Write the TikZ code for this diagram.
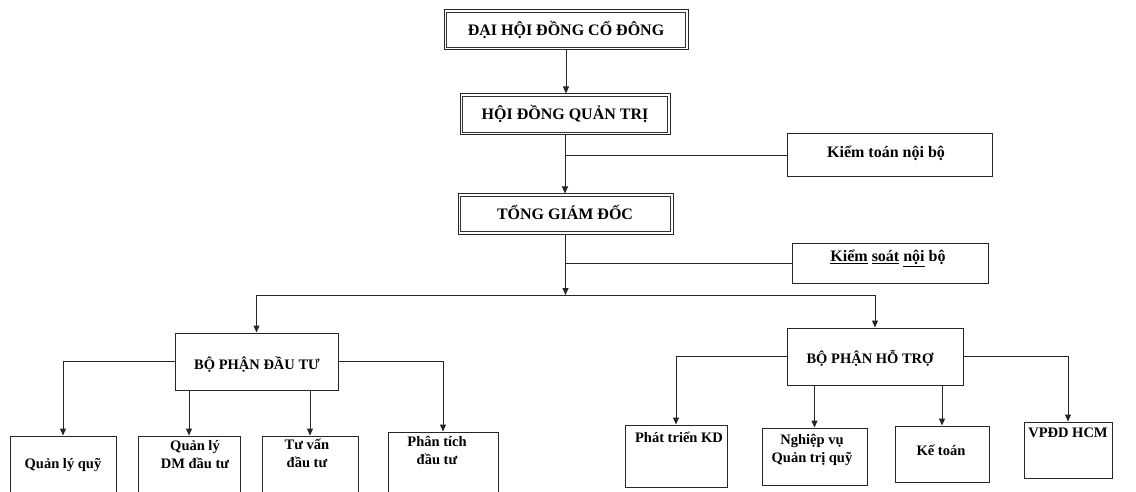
\documentclass[tikz,border=0pt]{standalone}
\usepackage{fontspec}
\setmainfont{Liberation Serif}
\usetikzlibrary{arrows.meta}
\begin{document}
\begin{tikzpicture}[x=1pt,y=-1pt,
  box/.style={draw=black!85, line width=1pt, rectangle, inner sep=0pt},
  inner/.style={draw=black!80, line width=0.8pt},
  conn/.style={draw=black!85, line width=1pt},
  arr/.style={conn, -{Triangle[length=7pt,width=6pt]}},
  big/.style={inner sep=0pt, font=\bfseries\fontsize{16}{19}\selectfont},
  small/.style={inner sep=0pt, align=center, font=\bfseries\fontsize{14.5}{18}\selectfont},
]
\useasboundingbox (0,0) rectangle (1136,492);
\clip (0,0) rectangle (1136,492);
\fill[white] (0,0) rectangle (1136,492);

% boxes
\node[box, minimum width=244pt, minimum height=40pt] (dhcd) at (566,30) {};
\node[box, minimum width=210pt, minimum height=41pt] (hdqt) at (565,114.5) {};
\node[box, minimum width=215pt, minimum height=40pt] (tgd) at (565.5,214) {};
\node[box, minimum width=205pt, minimum height=43pt] (ktnb) at (889.5,155.5) {};
\node[box, minimum width=196pt, minimum height=40pt] (ksnb) at (890,263) {};
\node[box, minimum width=163pt, minimum height=57pt] (bpdt) at (256.5,361.5) {};
\node[box, minimum width=176pt, minimum height=57pt] (bpht) at (875,356.5) {};
\node[box, minimum width=106pt, minimum height=64pt] (qlq) at (63,468) {};
\node[box, minimum width=102pt, minimum height=64pt] (qldm) at (189,468) {};
\node[box, minimum width=96pt, minimum height=64pt] (tvdt) at (310,468) {};
\node[box, minimum width=110pt, minimum height=68pt] (ptdt) at (443,466) {};
\node[box, minimum width=102pt, minimum height=62pt] (ptkd) at (676,456) {};
\node[box, minimum width=105pt, minimum height=57pt] (nvqt) at (814.5,456.5) {};
\node[box, minimum width=94pt, minimum height=56pt] (ketoan) at (942,454) {};
\node[box, minimum width=88pt, minimum height=56pt] (vpdd) at (1068,450) {};

% inner lines of the double frames
\foreach \n in {dhcd,hdqt,tgd}
  \draw[inner] ([shift={(3,3)}]\n.north west) rectangle ([shift={(-3,-3)}]\n.south east);

% texts
\node[big] (t-dhcd) at (566,30) {ĐẠI HỘI ĐỒNG CỔ ĐÔNG};
\node[big] (t-hdqt) at (565,114) {HỘI ĐỒNG QUẢN TRỊ};
\node[big] (t-tgd) at (565,212) {TỔNG GIÁM ĐỐC};
\node[big] (t-ktnb) at (886,153) {Kiểm toán nội bộ};
\node[big] (t-ksnb) at (888,258) {\underline{Kiểm} \underline{soát} \underline{nội} bộ};
\node[small] (t-bpdt) at (257,364) {BỘ PHẬN ĐẦU TƯ};
\node[small] (t-bpht) at (870,358) {BỘ PHẬN HỖ TRỢ};
\node[small] (t-qlq) at (63,465) {Quản lý quỹ};
\node[small] (t-qldm) at (195,455) {Quản lý\\DM đầu tư};
\node[small] (t-tvdt) at (307,453) {Tư vấn\\đầu tư};
\node[small] (t-ptdt) at (437,450) {Phân tích\\đầu tư};
\node[small] (t-ptkd) at (679,437) {Phát triển KD};
\node[small] (t-nvqt) at (812,450) {Nghiệp vụ\\Quản trị quỹ};
\node[small] (t-ketoan) at (941,450) {Kế toán};
\node[small] (t-vpdd) at (1068,433) {VPĐD HCM};

% connectors
\coordinate (bus) at (565.5,295);
\draw[arr] (dhcd.south) -- (dhcd.south |- hdqt.north);
\draw[arr] (hdqt.south) -- (hdqt.south |- tgd.north);
\draw[conn] (ktnb.west) -- (ktnb.west -| hdqt.south);
\draw[arr] (tgd.south) -- (bus);
\draw[conn] (ksnb.west) -- (ksnb.west -| tgd.south);
\draw[arr] (bus) -| (bpdt.north);
\draw[arr] (bus) -| (bpht.north);
\draw[arr] (bpdt.west) -| (qlq.north);
\draw[arr] (bpdt.east) -| (ptdt.north);
\draw[arr] (bpdt.south -| qldm.north) -- (qldm.north);
\draw[arr] (bpdt.south -| tvdt.north) -- (tvdt.north);
\draw[arr] (bpht.west) -| (ptkd.north);
\draw[arr] (bpht.east) -| (vpdd.north);
\draw[arr] (bpht.south -| nvqt.north) -- (nvqt.north);
\draw[arr] (bpht.south -| ketoan.north) -- (ketoan.north);
\end{tikzpicture}
\end{document}
